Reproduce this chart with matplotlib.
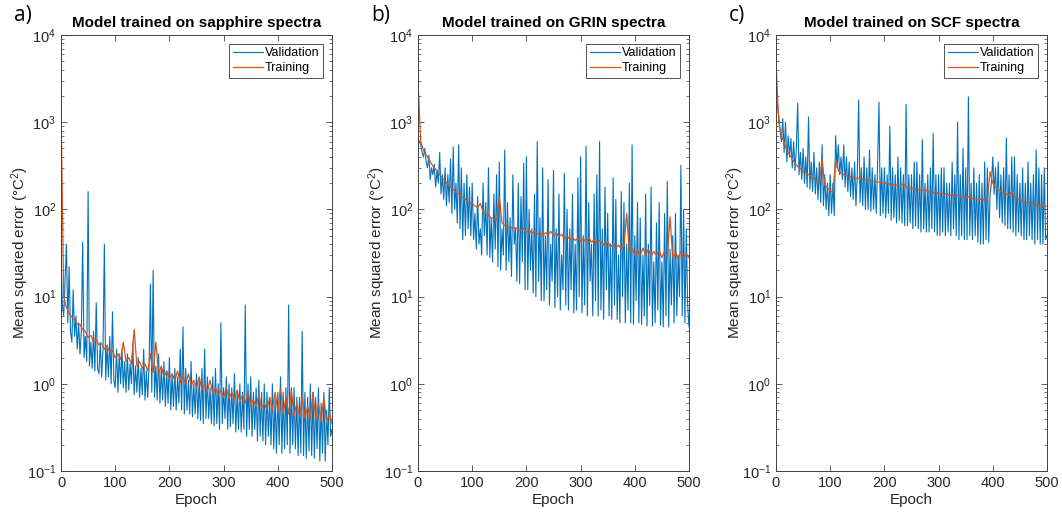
import numpy as np
import matplotlib
matplotlib.use("Agg")
import matplotlib.pyplot as plt
from matplotlib.ticker import LogLocator, FixedLocator

# ---------------- data ----------------
titles = ["Model trained on sapphire spectra", "Model trained on GRIN spectra", "Model trained on SCF spectra"]
panel_labels = ["a)", "b)", "c)"]
xticks = [0, 100, 200, 300, 400, 500]

# validation loss, one value every 2.5 epochs (0 .. 500)
a_val = [30, 8, 6, 15, 40, 5, 22, 4, 3, 12, 3.5, 6, 2.5, 5, 2.2, 4,
         42, 2, 3.5, 1.8, 160, 1.6, 3, 1.5, 4, 1.4, 8.5, 1.5, 1.3, 3, 1.2, 2.5,
         40, 1.1, 2.8, 1.2, 3.5, 1.0, 6.7, 1.1, 0.9, 2.5, 0.8, 2.2, 1.0, 2.5, 0.9, 1.8,
         0.8, 2.2, 0.85, 1.7, 1.0, 3, 0.75, 1.6, 0.8, 2, 0.7, 1.5, 0.75, 2.5, 0.65, 1.4,
         0.7, 1.6, 14, 0.8, 20, 0.7, 1.6, 0.65, 2.2, 0.6, 1.5, 0.65, 1.8, 0.55, 1.4, 0.6,
         2, 0.5, 1.3, 0.55, 1.5, 0.5, 1.2, 0.6, 2.5, 0.5, 4.5, 0.45, 1.5, 0.5, 1.1, 0.45,
         1.8, 0.42, 1.0, 0.45, 1.3, 0.4, 1.1, 0.38, 1.5, 0.35, 2.5, 0.4, 1.2, 0.4, 0.9, 0.35,
         1.2, 0.33, 1.5, 0.35, 1.0, 0.3, 5, 0.35, 0.9, 0.4, 1.2, 0.3, 1.0, 0.32, 0.9, 0.35,
         1.3, 0.28, 0.8, 0.3, 1.0, 0.28, 0.8, 0.3, 8, 0.25, 1.0, 0.3, 1.2, 0.25, 0.8, 0.3,
         0.9, 0.22, 1.1, 0.25, 0.8, 0.22, 1.0, 0.2, 0.8, 0.25, 0.7, 0.2, 1.0, 0.18, 0.7, 0.16,
         0.8, 0.2, 1.2, 0.16, 0.8, 0.18, 0.9, 0.2, 8, 0.16, 0.9, 0.2, 0.9, 0.18, 0.7, 0.15,
         0.7, 0.16, 4, 0.15, 0.8, 0.14, 0.7, 0.17, 1.0, 0.15, 0.8, 0.14, 0.7, 0.18, 0.9, 0.13,
         0.6, 0.16, 0.8, 0.13, 0.5, 0.2, 0.9, 0.25, 0.3]
# training loss, one value every 5 epochs (0 .. 500)
a_train = [1500, 10, 7.5, 6.5, 5.8, 5.5, 4.8, 4.8, 4.2, 4.0,
           3.4, 3.6, 3.0, 3.2, 2.8, 2.9, 2.5, 2.7, 2.3, 2.4,
           2.0, 2.2, 1.9, 3.0, 1.8, 2.0, 1.7, 4.2, 1.6, 1.8,
           1.5, 1.7, 1.4, 2.2, 1.35, 3.0, 1.3, 1.6, 1.2, 1.4,
           1.15, 1.3, 1.1, 1.4, 1.05, 1.2, 1.0, 1.3, 0.95, 1.1,
           0.9, 1.2, 0.85, 1.0, 0.82, 1.1, 0.78, 0.9, 0.75, 0.85,
           0.7, 0.9, 0.68, 0.8, 0.65, 0.85, 0.62, 0.75, 0.6, 0.8,
           0.58, 0.65, 0.55, 0.75, 0.53, 0.6, 0.5, 0.7, 0.5, 0.8,
           0.48, 0.9, 0.46, 0.7, 0.45, 0.85, 0.43, 0.6, 0.42, 0.7,
           0.4, 0.55, 0.4, 0.8, 0.38, 0.6, 0.37, 0.7, 0.36, 0.45,
           0.35]

b_val = [650, 600, 550, 450, 400, 500, 350, 300, 420, 220, 300, 250, 330, 180, 280, 200,
         450, 150, 250, 130, 300, 110, 250, 120, 380, 90, 520, 100, 200, 70, 550, 60,
         300, 45, 200, 50, 250, 60, 180, 50,
         200, 45, 90, 35, 140, 40, 60, 30, 200, 50, 120, 30, 300, 28, 80, 25,
         150, 35, 250, 22, 350, 20, 60, 30, 480, 20, 120, 25, 80, 17, 250, 40,
         60, 15, 200, 14, 140, 25, 340, 12, 400, 12, 100, 20, 60, 11, 150, 10,
         600, 15, 80, 9, 300, 9, 50, 12, 220, 8, 40, 15, 280, 7.5, 60, 10,
         150, 7, 30, 12, 260, 8, 100, 7, 60, 12, 150, 6.5, 40, 7, 230, 10,
         400, 6.5, 50, 8, 530, 6, 120, 15, 40, 6, 150, 9, 250, 6, 600, 7,
         60, 5.5, 180, 12, 90, 6, 40, 5.5, 230, 8, 130, 5.5, 30, 5, 160, 10,
         120, 5, 40, 7, 200, 5, 550, 4.8, 50, 9, 120, 5, 80, 4.8, 30, 6,
         150, 4.6, 40, 8, 180, 4.6, 25, 5, 70, 7, 120, 4.7, 25, 4.5, 90, 6,
         210, 4.5, 35, 8, 50, 5, 90, 6, 30, 10, 320, 6, 100, 5, 60, 8, 4.5]
b_train = [3000, 600, 480, 420, 380, 330, 300, 280, 250, 230,
           210, 195, 180, 170, 155, 150, 140, 135, 125, 120,
           115, 110, 105, 117, 95, 90, 85, 80, 78, 75,
           140, 70, 65, 62, 63, 60, 62, 58, 57, 60,
           55, 58, 53, 56, 52, 55, 50, 54, 52, 56,
           50, 54, 48, 52, 46, 50, 45, 48, 44, 47,
           43, 46, 42, 48, 42, 45, 40, 44, 41, 38,
           43, 37, 40, 36, 39, 35, 38, 90, 32, 36,
           30, 34, 30, 36, 30, 35, 29, 33, 30, 34,
           28, 33, 29, 82, 28, 32, 27, 33, 28, 31,
           28]

c_val = [3000, 1500, 1200, 800, 600, 1100, 450, 1000, 350, 700, 400, 650, 300, 600, 280, 500,
         1650, 250, 450, 220, 500, 200, 400, 180, 1150, 170, 350, 160, 450, 150, 300, 130,
         350, 120, 550, 110, 250, 100, 200, 85, 250, 90, 200, 85, 700, 300, 550, 250,
         400, 220, 550, 180, 400, 160, 350, 140, 300, 130, 350, 110, 250, 1800, 120, 300,
         110, 400, 100, 300, 100, 480, 95, 300, 100, 250, 90, 350, 1700, 85, 300, 90,
         300, 80, 250, 90, 900, 75, 300, 80, 250, 70, 400, 75, 300, 70, 250, 65,
         1600, 65, 250, 70, 250, 60, 350, 65, 350, 60, 250, 55, 630, 60, 200, 55,
         250, 55, 300, 60, 740, 55, 250, 50, 250, 50, 300, 55, 300, 50, 200, 55,
         200, 50, 350, 60, 250, 50, 1000, 45, 250, 50, 500, 45, 300, 45, 1950, 50,
         200, 45, 300, 50, 200, 42, 250, 40, 200, 40, 350, 45, 300, 42, 150, 200,
         400, 150, 300, 100, 350, 80, 250, 70, 300, 65, 660, 60, 250, 60, 400, 55,
         400, 50, 250, 55, 200, 50, 300, 45, 200, 45, 350, 50, 200, 45, 250, 40,
         480, 45, 300, 40, 250, 40, 300, 45, 50]
c_train = [5000, 1000, 700, 580, 480, 420, 380, 340, 310, 290,
           270, 265, 250, 240, 225, 210, 200, 380, 190, 175,
           165, 155, 370, 280, 260, 250, 245, 240, 235, 230,
           228, 225, 222, 220, 215, 212, 210, 208, 205, 202,
           200, 198, 195, 192, 190, 188, 185, 200, 180, 178,
           175, 172, 170, 168, 165, 170, 160, 158, 155, 160,
           150, 155, 148, 152, 145, 148, 142, 145, 140, 138,
           135, 140, 132, 135, 130, 128, 135, 125, 130, 270,
           200, 180, 170, 160, 155, 150, 145, 160, 138, 135,
           130, 125, 122, 120, 118, 115, 112, 110, 110, 108,
           110]

validation = [a_val, b_val, c_val]
training = [a_train, b_train, c_train]

# ---------------- style ----------------
plt.rcParams['font.family'] = ['Liberation Sans', 'DejaVu Sans']
plt.rcParams['mathtext.default'] = 'regular'
BLUE = '#0072BD'
ORANGE = '#D95319'
TICK_COL = '#404040'
TXT_COL = '#262626'

fig = plt.figure(figsize=(10.62, 5.18), dpi=100)
lefts = [61, 418, 776]
W, H = 1062, 518
for i in range(3):
    ax = fig.add_axes([lefts[i] / W, 1 - 471 / H, 271 / W, 436 / H])
    v = np.asarray(validation[i], float)
    t = np.asarray(training[i], float)
    ev = np.linspace(0, 500, len(v))
    et = np.linspace(0, 500, len(t))
    ax.plot(ev, v, color=BLUE, lw=0.8, label='Validation')
    ax.plot(et, t, color=ORANGE, lw=0.9, label='Training')
    ax.set_yscale('log')
    ax.set_ylim(0.1, 1e4)
    ax.set_xlim(0, 500)
    ax.xaxis.set_major_locator(FixedLocator(xticks))
    ax.yaxis.set_major_locator(LogLocator(base=10, numticks=10))
    ax.yaxis.set_minor_locator(LogLocator(base=10, subs=np.arange(2, 10), numticks=20))
    ax.tick_params(which='both', direction='in', top=True, right=True,
                   colors=TICK_COL, labelsize=10.5, labelcolor=TXT_COL)
    ax.tick_params(which='major', length=4, width=0.6)
    ax.tick_params(which='minor', length=2, width=0.5)
    for s in ax.spines.values():
        s.set_color(TICK_COL)
        s.set_linewidth(0.7)
    ax.set_xlabel('Epoch', fontsize=11, color=TXT_COL, labelpad=2)
    ax.set_ylabel('Mean squared error (°C$^2$)', fontsize=11, color=TXT_COL, labelpad=-3)
    ax.set_title(titles[i], fontsize=11, fontweight='bold', pad=6)
    leg = ax.legend(loc='upper right', fontsize=9, frameon=True, fancybox=False,
                    handlelength=2.4, handletextpad=0.15, borderpad=0.3,
                    labelspacing=0.2, borderaxespad=0.7)
    leg.get_frame().set_edgecolor(TXT_COL)
    leg.get_frame().set_linewidth(0.7)
    fig.text((lefts[i] - 47) / W, 1 - 16 / H, panel_labels[i], fontsize=15,
             family=['Open Sans', 'DejaVu Sans'], ha='left', va='center')

fig.savefig('out.png', dpi=100, facecolor='white')
